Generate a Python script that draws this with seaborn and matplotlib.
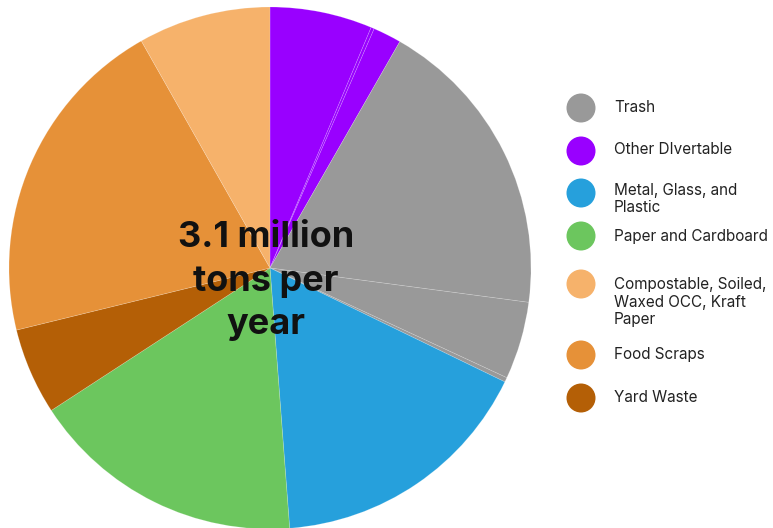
import matplotlib
matplotlib.use("Agg")
import matplotlib.pyplot as plt
from matplotlib.patches import Circle
import seaborn as sns

sns.set_theme(style="white")
plt.rcParams['font.family'] = ['Inter', 'DejaVu Sans']

# Legend categories and colours
categories = ["Trash", "Other DIvertable", "Metal, Glass, and\nPlastic",
              "Paper and Cardboard", "Compostable, Soiled,\nWaxed OCC, Kraft\nPaper",
              "Food Scraps", "Yard Waste"]
cat_colors = ["#999999", "#9900FF", "#26A0DC", "#6CC65E", "#F6B26B", "#E69138", "#B45F06"]

# Pie slices (clockwise from top), share of total in percent
slice_category = ["Other DIvertable", "Other DIvertable", "Other DIvertable",
                  "Trash", "Trash", "Trash",
                  "Metal, Glass, and\nPlastic", "Paper and Cardboard", "Yard Waste",
                  "Food Scraps", "Compostable, Soiled,\nWaxed OCC, Kraft\nPaper"]
slice_values = [6.33, 0.2, 1.75, 18.8, 4.8, 0.28, 16.6, 17.0, 5.36, 20.6, 8.2]

center_text = "3.1 million\ntons per\nyear"

W, H = 773, 528
fig = plt.figure(figsize=(W / 100, H / 100), dpi=100)
fig.patch.set_facecolor("white")

cx, cy, r = 270, 268, 261
ax = fig.add_axes([(cx - r) / W, (H - cy - r) / H, 2 * r / W, 2 * r / H])
color_map = dict(zip(categories, cat_colors))
ax.pie(slice_values, colors=[color_map[c] for c in slice_category],
       startangle=90, counterclock=False, radius=1,
       wedgeprops=dict(edgecolor=(1, 1, 1, 0.22), linewidth=0.5))
ax.set_xlim(-1, 1)
ax.set_ylim(-1, 1)
ax.set_aspect("equal")
ax.axis("off")
ax.text((266 - cx) / r, (cy - 281) / r, center_text, ha="center", va="center",
        fontsize=26, fontweight="bold", color="#111111", linespacing=1.42)

# Legend
lax = fig.add_axes([560 / W, 0, 213 / W, 1])
lax.set_xlim(0, 213)
lax.set_ylim(H, 0)
lax.axis("off")
circle_y = [108, 151, 193, 236, 284, 355, 398]
text_y = [107, 150, 199, 236, 302, 355, 397]
for cat, col, yc, yt in zip(categories, cat_colors, circle_y, text_y):
    lax.add_patch(Circle((21, yc), 14.5, color=col, lw=0))
    lax.text(54, yt, cat, ha="left", va="center", fontsize=11,
             color="#222222", linespacing=1.2)

fig.savefig("out.png", dpi=100)
